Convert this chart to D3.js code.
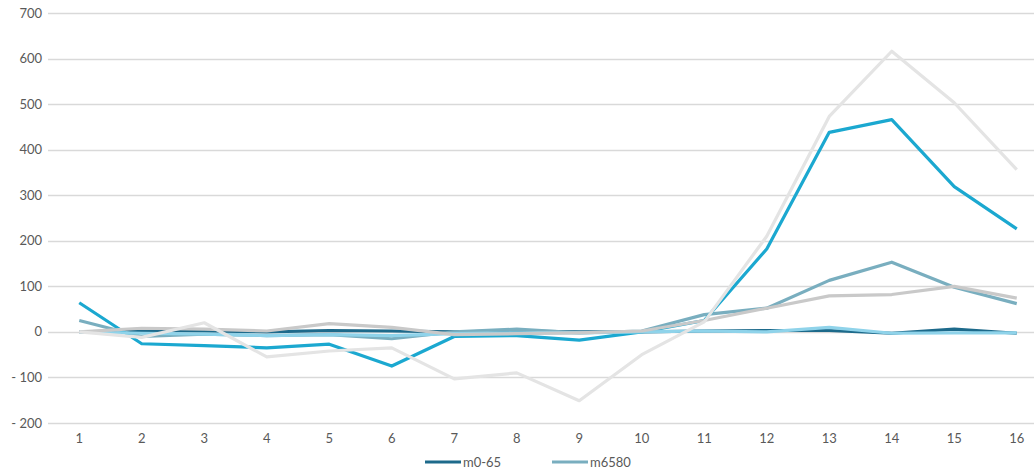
<!DOCTYPE html>
<html>
<head>
<meta charset="utf-8">
<title>Line chart</title>
<script src="https://d3js.org/d3.v7.min.js"></script>
<style>
  body { margin: 0; background: #fff; }
  text { font-family: Lato, "Open Sans", sans-serif; fill: #595959; }
</style>
</head>
<body>
<div id="chart"></div>
<script>
// categories and tick labels
var categories = ["1","2","3","4","5","6","7","8","9","10","11","12","13","14","15","16"];
var yTicks = [-200, -100, 0, 100, 200, 300, 400, 500, 600, 700];

// series values
var m065   = [0, 3, 2, 0, 3, 2, 0, 2, 0, 0, 2, 3, 3, -3, 6, -3];
var m6580  = [25, -10, -5, -8, -6, -15, 0, 6, -2, 2, 38, 52, 113, 153, 98, 62];
var sCyan  = [64, -26, -30, -35, -27, -75, -10, -8, -18, 0, 25, 182, 438, 466, 319, 226];
var sLight = [0, -3, -5, -8, -6, -8, -4, -2, -2, 0, 2, 0, 10, -3, -2, -2];
var sGray  = [0, 8, 6, 2, 18, 10, -6, -4, -2, 2, 25, 52, 79, 82, 100, 74];
var sPale  = [0, -12, 20, -55, -42, -35, -103, -90, -151, -50, 22, 210, 473, 616, 503, 356];

var seriesNames  = ["m0-65", "m6580", "s3", "s4", "s5", "s6"];
var seriesValues = [m065, m6580, sCyan, sLight, sGray, sPale];
var seriesColors = ["#1d6a8b", "#79aebf", "#1ba8d0", "#8fd3ea", "#c9c9c9", "#e4e4e4"];
var legendNames  = ["m0-65", "m6580"];

var width = 1034, height = 472;
var margin = {top: 13, left: 48, right: -14, bottom: 49};

var svg = d3.select("#chart").append("svg")
  .attr("width", width).attr("height", height);

var x = d3.scalePoint()
  .domain(categories)
  .range([margin.left, width - margin.right])
  .padding(0.5);

var y = d3.scaleLinear()
  .domain([-200, 700])
  .range([height - margin.bottom, margin.top]);

// gridlines
svg.append("g")
  .selectAll("line")
  .data(yTicks)
  .join("line")
  .attr("x1", margin.left)
  .attr("x2", width)
  .attr("y1", function(d) { return Math.round(y(d)) + 0.5; })
  .attr("y2", function(d) { return Math.round(y(d)) + 0.5; })
  .attr("stroke", "#d9d9d9")
  .attr("stroke-width", 1.3);

// y labels
svg.append("g")
  .selectAll("text")
  .data(yTicks)
  .join("text")
  .attr("x", 42)
  .attr("y", function(d) { return y(d); })
  .attr("dy", "0.35em")
  .attr("text-anchor", "end")
  .style("font-size", "13px")
  .text(function(d) { return d < 0 ? "- " + Math.abs(d) : d; });

// x labels
svg.append("g")
  .selectAll("text")
  .data(categories)
  .join("text")
  .attr("x", function(d) { return x(d); })
  .attr("y", height - margin.bottom + 15)
  .attr("dy", "0.35em")
  .attr("text-anchor", "middle")
  .style("font-size", "13px")
  .text(function(d) { return d; });

var line = d3.line()
  .x(function(d, i) { return x(categories[i]); })
  .y(function(d) { return y(d); });

svg.append("g")
  .selectAll("path")
  .data(seriesValues)
  .join("path")
  .attr("d", line)
  .attr("fill", "none")
  .attr("stroke", function(d, i) { return seriesColors[i]; })
  .attr("stroke-width", 3.2)
  .attr("stroke-linejoin", "round");

// legend
var legendX = [425, 552];
var lg = svg.append("g")
  .selectAll("g")
  .data(legendNames)
  .join("g")
  .attr("transform", function(d, i) { return "translate(" + legendX[i] + "," + 462 + ")"; });

lg.append("line")
  .attr("x1", 0).attr("x2", 36)
  .attr("stroke", function(d, i) { return seriesColors[i]; })
  .attr("stroke-width", 3.2);

lg.append("text")
  .attr("x", 38)
  .attr("dy", "0.35em")
  .style("font-size", "13px")
  .text(function(d) { return d; });
</script>
</body>
</html>
